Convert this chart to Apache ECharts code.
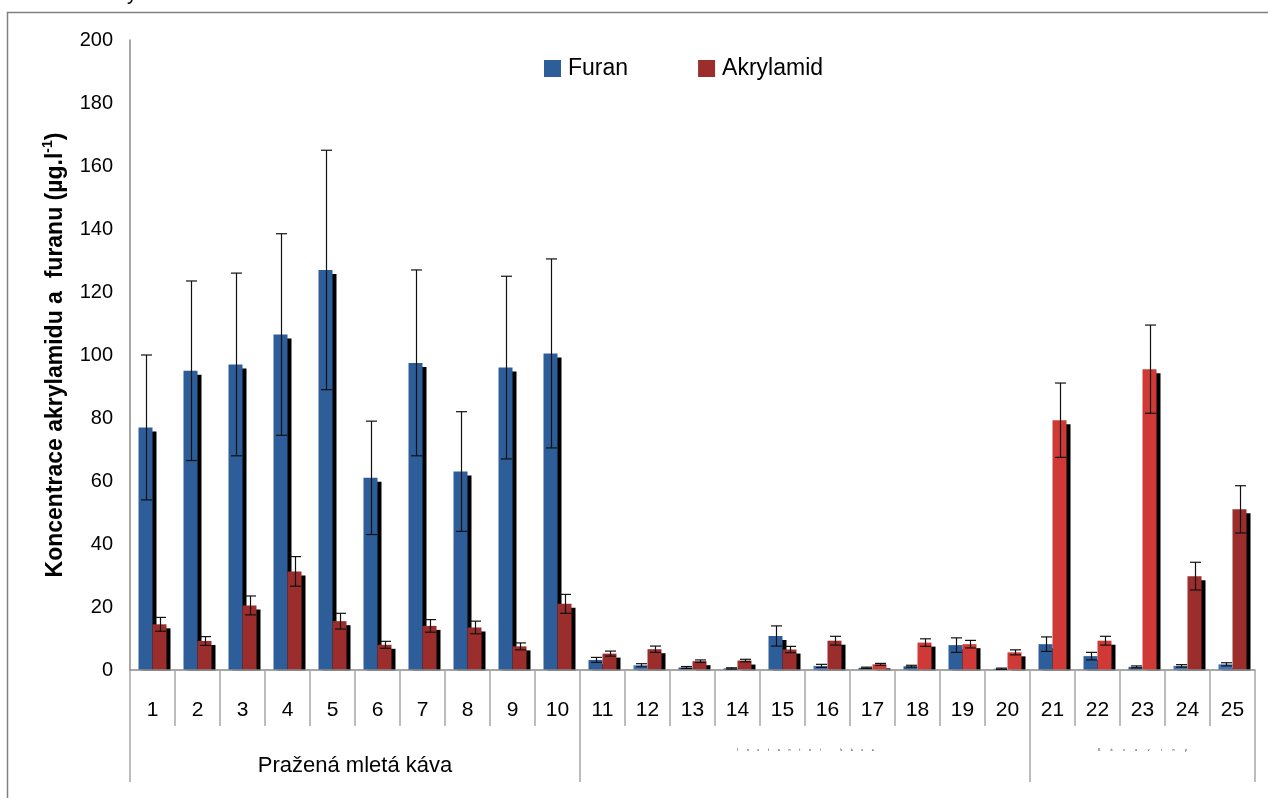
<!DOCTYPE html>
<html>
<head>
<meta charset="utf-8">
<script src="https://cdn.jsdelivr.net/npm/echarts@6/dist/echarts.min.js"></script>
<style>
  html, body { margin: 0; padding: 0; background: #fff; }
  #chart { width: 1268px; height: 798px; }
</style>
</head>
<body>
<div id="chart"></div>
<script>
// Sample numbers shown on the category axis
const samples = ['1','2','3','4','5','6','7','8','9','10','11','12','13','14','15','16','17','18','19','20','21','22','23','24','25'];

// Furan: mean concentration and standard deviation (µg/l)
const furan   = [77, 95, 97, 106.5, 127, 61, 97.5, 63, 96, 100.5, 3.2, 1.5, 0.8, 0.5, 10.8, 1.3, 0.7, 1.2, 7.9, 0.4, 8.2, 4.4, 1.0, 1.3, 1.8];
const furanSd = [23, 28.5, 29, 32, 38, 18, 29.5, 19, 29, 30, 0.8, 0.5, 0.3, 0.2, 3.2, 0.5, 0.2, 0.3, 2.3, 0.2, 2.3, 1.2, 0.3, 0.4, 0.5];

// Akrylamid: mean concentration and standard deviation (µg/l)
const akryl   = [14.5, 9.2, 20.5, 31.3, 15.5, 8, 14, 13.5, 7.5, 21, 5.2, 6.6, 2.8, 3.0, 6.5, 9.3, 1.8, 8.7, 8.2, 5.6, 79.3, 9.3, 95.5, 29.8, 51];
const akrylSd = [2.2, 1.4, 3, 4.7, 2.5, 1.1, 2, 2, 1.1, 3, 0.8, 1.0, 0.4, 0.4, 1.0, 1.4, 0.3, 1.2, 1.2, 0.8, 11.8, 1.4, 14, 4.4, 7.5];

// Product groups: label and the range of samples they cover
const groupNames  = ['Pražená mletá káva', 'Instantní káva', 'Kávoviny'];
const groupBounds = [0, 10, 20, 25];

const yTicks = { min: 0, max: 200, step: 20 };

// ---- styling ----
const FONT = 'Liberation Sans, Arial, sans-serif';
const BLUE = '#2E5E9A', BLUE_LIGHT = '#3F74BC';
const RED = '#9B2D2D', RED_BRIGHT = '#CF3A36';
const brightRedIdx = [16, 17, 18, 19, 20, 21, 22];
const lightBlueIdx = [11, 15, 19, 23, 24];
const BAR_W = 14;
const GRID = { left: 130, right: 13, top: 40, bottom: 128 };
const W = 1268, H = 798;

const groupCenters = groupNames.map((_, i) => (groupBounds[i] + groupBounds[i + 1]) / 2);

// spaced-out tiny caption built from one rich token per character
function spaced(text, token) {
  return text.split('').map(ch => '{' + token + '|' + ch + '}').join('');
}

function errorSeries(name, means, sds, offset) {
  return {
    type: 'custom',
    name: name + ' SD',
    silent: true,
    z: 10,
    data: means.map((m, i) => [i, m - sds[i], m + sds[i]]),
    encode: { x: 0, y: [1, 2] },
    renderItem: function (params, api) {
      const idx = api.value(0);
      const x = Math.round(api.coord([idx, 0])[0] + offset) + 0.5;
      const yLo = api.coord([idx, api.value(1)])[1];
      const yHi = api.coord([idx, api.value(2)])[1];
      const hw = 5.5;
      const st = { stroke: '#111', lineWidth: 1.2 };
      return {
        type: 'group',
        children: [
          { type: 'line', shape: { x1: x, y1: yHi, x2: x, y2: yLo }, style: st },
          { type: 'line', shape: { x1: x - hw, y1: yHi, x2: x + hw, y2: yHi }, style: st },
          { type: 'line', shape: { x1: x - hw, y1: yLo, x2: x + hw, y2: yLo }, style: st }
        ]
      };
    }
  };
}

const barShadow = { shadowColor: '#000', shadowBlur: 0, shadowOffsetX: 4, shadowOffsetY: 4 };
const baseY = H - GRID.bottom;

const chart = echarts.init(document.getElementById('chart'), null, { renderer: 'canvas' });

const option = {
  animation: false,
  backgroundColor: '#ffffff',
  textStyle: { fontFamily: FONT, color: '#000' },
  grid: Object.assign({ containLabel: false }, GRID),
  legend: {
    left: 544,
    top: 57,
    padding: 0,
    icon: 'rect',
    itemWidth: 17,
    itemHeight: 17,
    itemGap: 70,
    itemStyle: { shadowColor: 'transparent', shadowOffsetX: 0, shadowOffsetY: 0, shadowBlur: 0 },
    textStyle: { fontFamily: FONT, fontSize: 23, color: '#000', padding: [0, 0, 0, 2] },
    data: [
      { name: 'Furan', itemStyle: { color: BLUE } },
      { name: 'Akrylamid', itemStyle: { color: RED } }
    ]
  },
  xAxis: [
    {
      type: 'category',
      data: samples,
      boundaryGap: true,
      z: 6,
      axisLine: { show: true, lineStyle: { color: '#8a8a8a', width: 1.5 } },
      axisTick: { show: true, interval: 0, length: 56, lineStyle: { color: '#a6a6a6', width: 1.5 } },
      axisLabel: { interval: 0, margin: 30, fontSize: 21, fontFamily: FONT, color: '#000' },
      splitLine: { show: false }
    },
    {
      type: 'value',
      min: 0,
      max: 25,
      position: 'bottom',
      z: 6,
      axisLine: { show: false },
      axisTick: { show: true, customValues: groupBounds, length: 112, lineStyle: { color: '#a6a6a6', width: 1.5 } },
      axisLabel: {
        customValues: [groupCenters[0]],
        margin: 85,
        fontSize: 22,
        fontFamily: FONT,
        color: '#000',
        formatter: () => groupNames[0]
      },
      splitLine: { show: false }
    },
    {
      type: 'value',
      min: 0,
      max: 25,
      position: 'bottom',
      z: 6,
      axisLine: { show: false },
      axisTick: { show: false },
      axisLabel: {
        customValues: [groupCenters[1], groupCenters[2]],
        margin: 78,
        color: '#000',
        formatter: (v) => (v === groupCenters[1] ? spaced(groupNames[1], 'c') : spaced(groupNames[2], 'd')),
        rich: {
          c: { fontSize: 3.5, width: 10.4, align: 'center', fontFamily: FONT, color: '#000' },
          d: { fontSize: 3.5, width: 12.4, align: 'center', fontFamily: FONT, color: '#000' }
        }
      },
      splitLine: { show: false }
    }
  ],
  yAxis: {
    type: 'value',
    min: yTicks.min,
    max: yTicks.max,
    interval: yTicks.step,
    z: 6,
    axisLine: { show: true, lineStyle: { color: '#8a8a8a', width: 1.5 } },
    axisTick: { show: false },
    splitLine: { show: false },
    axisLabel: { fontSize: 20, fontFamily: FONT, color: '#000', margin: 17 },
    name: '{t|Koncentrace akrylamidu a  furanu (µg.l}{s|-1}{t|)}',
    nameLocation: 'middle',
    nameRotate: 90,
    nameGap: 60,
    nameTextStyle: {
      rich: {
        t: { fontSize: 23, fontWeight: 'bold', fontFamily: FONT, color: '#000', lineHeight: 29 },
        s: { fontSize: 14, fontWeight: 'bold', fontFamily: FONT, color: '#000', verticalAlign: 'top', lineHeight: 15 }
      }
    }
  },
  series: [
    {
      name: 'Furan',
      type: 'bar',
      data: furan,
      barWidth: BAR_W,
      barGap: '0%',
      itemStyle: Object.assign({
        color: (p) => (lightBlueIdx.includes(p.dataIndex) ? BLUE_LIGHT : BLUE)
      }, barShadow)
    },
    {
      name: 'Akrylamid',
      type: 'bar',
      data: akryl,
      barWidth: BAR_W,
      barGap: '0%',
      itemStyle: Object.assign({
        color: (p) => (brightRedIdx.includes(p.dataIndex) ? RED_BRIGHT : RED)
      }, barShadow)
    },
    errorSeries('Furan', furan, furanSd, -BAR_W / 2),
    errorSeries('Akrylamid', akryl, akrylSd, BAR_W / 2)
  ],
  graphic: [
    {
      // keeps the bar drop shadows from spilling below the baseline
      type: 'rect',
      silent: true,
      z: 4,
      shape: { x: GRID.left + 1, y: baseY + 0.5, width: W - GRID.left - GRID.right + 6, height: 6 },
      style: { fill: '#ffffff' }
    },
    {
      type: 'polyline',
      silent: true,
      z: 4,
      shape: { points: [[7.5, 805], [7.5, 12.5], [1275, 12.5]] },
      style: { stroke: '#808080', lineWidth: 1.5, fill: null }
    },
    {
      type: 'text',
      silent: true,
      style: { text: 'y', x: 127, y: -16, fontSize: 20, fontFamily: FONT, fill: '#000' }
    }
  ]
};

chart.setOption(option);
</script>
</body>
</html>
